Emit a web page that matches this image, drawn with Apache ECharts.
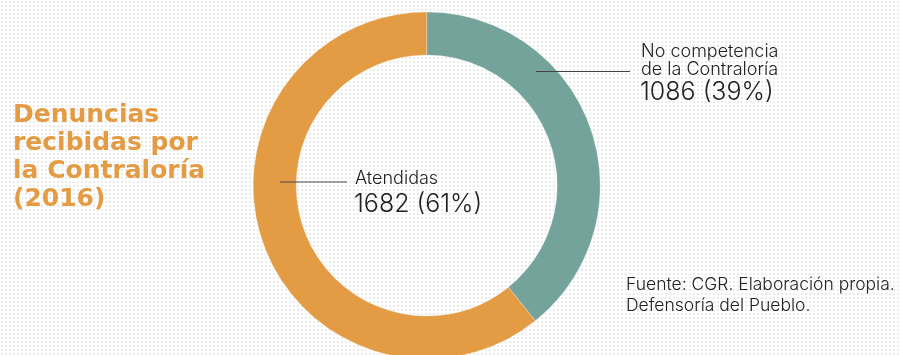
<!DOCTYPE html>
<html><head><meta charset="utf-8">
<script src="https://cdn.jsdelivr.net/npm/echarts@6/dist/echarts.min.js"></script>
<style>
html,body{margin:0;padding:0;background:#fff;}
body{background-image:radial-gradient(#ececec 0.8px, transparent 0.9px);background-size:4px 4px;}
#c{width:900px;height:355px;}
</style></head>
<body><div id="c"></div>
<script>
var titleLines = ['Denuncias', 'recibidas por', 'la Contraloría', '(2016)'];
var categories = ['No competencia de la Contraloría', 'Atendidas'];
var labelNames = [['No competencia', 'de la Contraloría'], ['Atendidas']];
var values = [1086, 1682];
var percents = ['39%', '61%'];
var colors = ['#74A39B', '#E49C44'];
var sourceLines = ['Fuente: CGR. Elaboración propia.', 'Defensoría del Pueblo.'];

var chart = echarts.init(document.getElementById('c'), null, {renderer: 'canvas'});
var FONT = 'Inter, "Open Sans", sans-serif';
var graphics = [];
titleLines.forEach(function (t, i) {
  graphics.push({type: 'text', left: 13, top: 103 + i * 28, z: 100,
    style: {text: t, fill: '#E49C44', font: 'bold 25px "DejaVu Sans", sans-serif'}});
});
// labels
graphics.push({type: 'line', z: 100, shape: {x1: 536, y1: 71.5, x2: 630, y2: 71.5}, style: {stroke: '#444', lineWidth: 1.2}});
graphics.push({type: 'text', left: 641, top: 43, z: 100,
  style: {text: labelNames[0].join('\n'), fill: '#222', font: '300 18px ' + FONT, lineHeight: 18}});
graphics.push({type: 'text', left: 640, top: 80, z: 100,
  style: {text: values[0] + ' (' + percents[0] + ')', fill: '#222', font: '300 25px ' + FONT}});
graphics.push({type: 'line', z: 100, shape: {x1: 280, y1: 182, x2: 347, y2: 182}, style: {stroke: '#444', lineWidth: 1.2}});
graphics.push({type: 'text', left: 355, top: 170, z: 100,
  style: {text: labelNames[1].join('\n'), fill: '#222', font: '300 18px ' + FONT}});
graphics.push({type: 'text', left: 354, top: 192, z: 100,
  style: {text: values[1] + ' (' + percents[1] + ')', fill: '#222', font: '300 25px ' + FONT}});
graphics.push({type: 'text', left: 626, top: 274.5, z: 100,
  style: {text: sourceLines.join('\n'), fill: '#222', font: '300 17.5px ' + FONT, lineHeight: 21}});

chart.setOption({
  backgroundColor: 'transparent',
  animation: false,
  graphic: graphics,
  series: [{
    type: 'pie',
    center: [426.7, 185.5],
    radius: [130.5, 173.5],
    startAngle: 90,
    clockwise: true,
    label: {show: false},
    labelLine: {show: false},
    itemStyle: {borderColor: 'rgba(255,255,255,0.5)', borderWidth: 0.5},
    data: categories.map(function (c, i) {
      return {name: c, value: values[i], itemStyle: {color: colors[i]}};
    })
  }]
});
</script></body></html>
